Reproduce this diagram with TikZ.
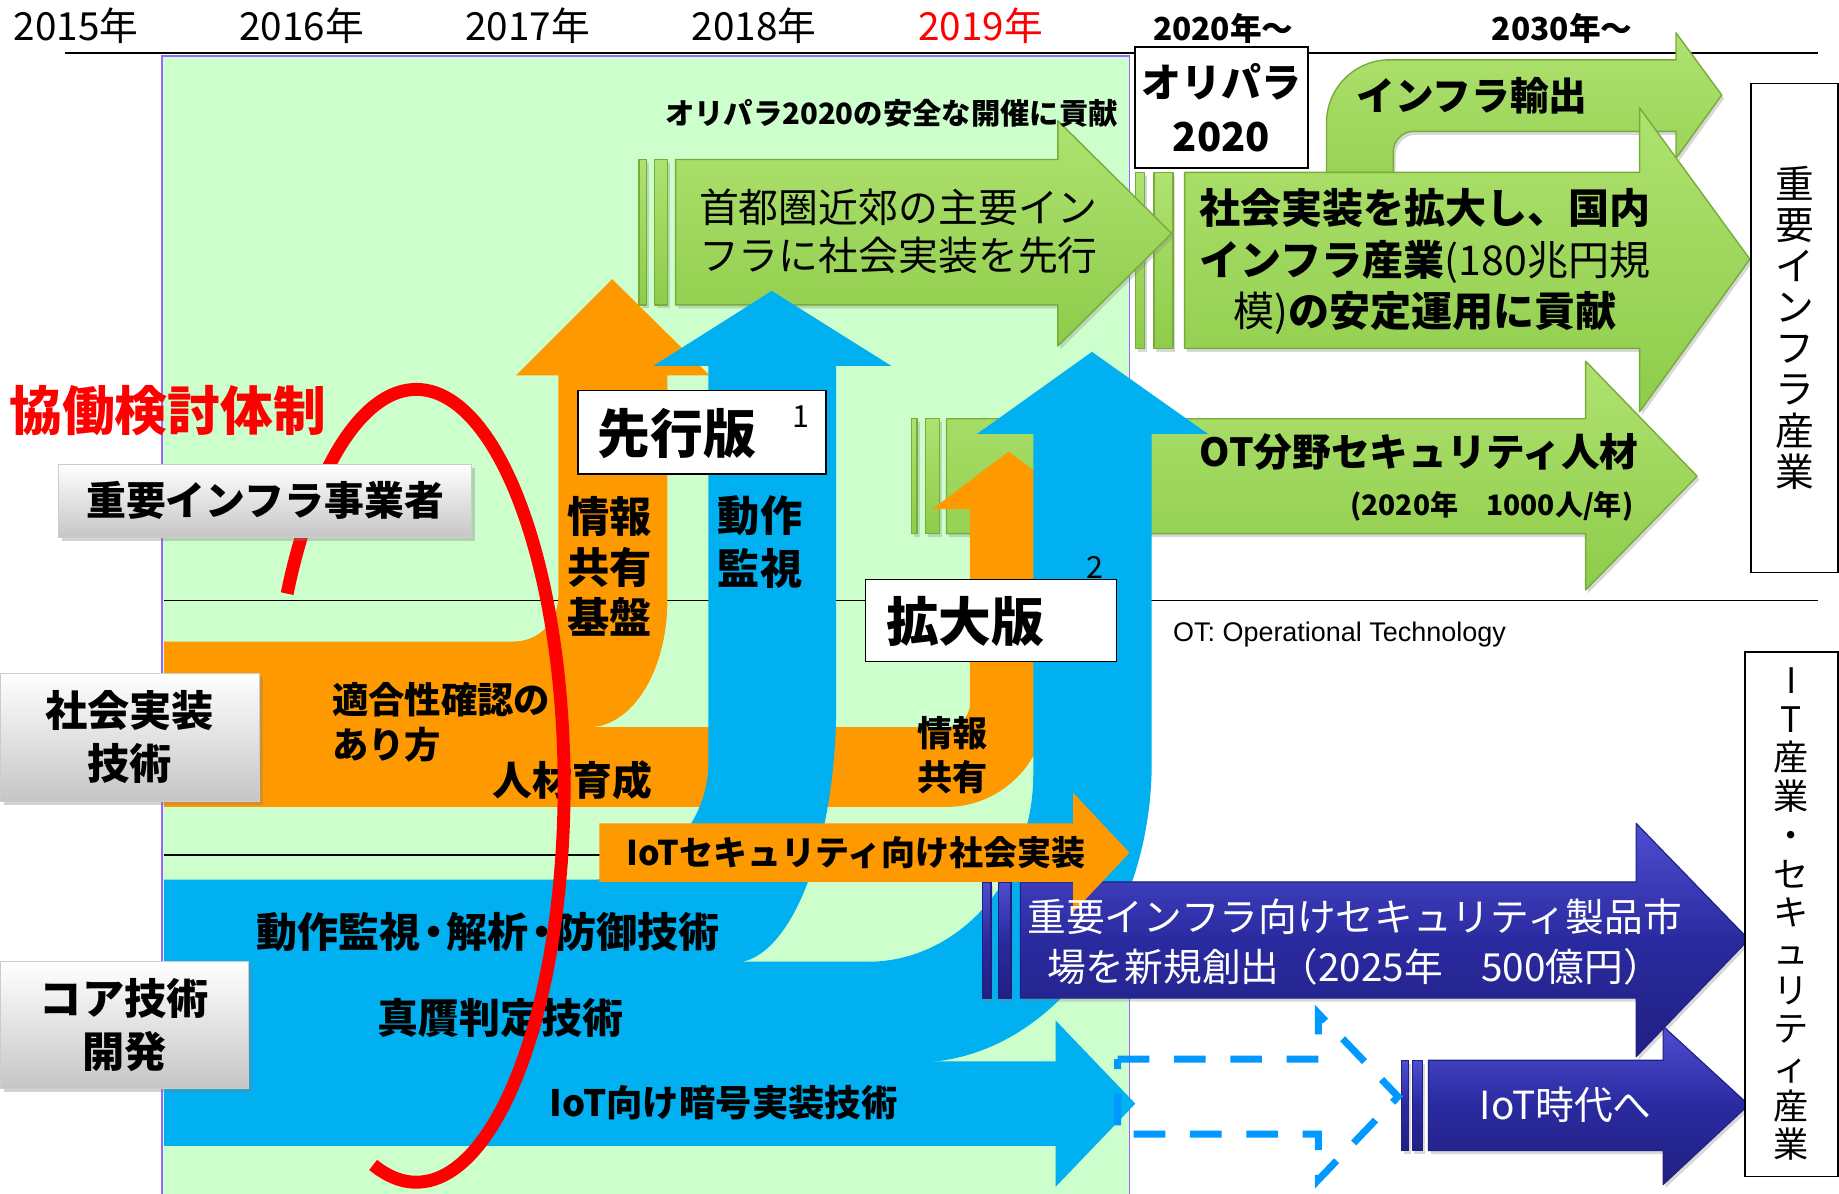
\documentclass[tikz,border=0pt]{standalone}
\usepackage{fontspec}
\setmainfont{Noto Sans CJK JP}
\newfontfamily\libsans{Liberation Sans}
\usetikzlibrary{shadows}
\definecolor{bgG}{RGB}{204,255,204}
\definecolor{bgB}{RGB}{153,102,255}
\definecolor{orng}{RGB}{255,153,0}
\definecolor{sky}{RGB}{0,176,240}
\definecolor{gTop}{RGB}{175,226,112}
\definecolor{gBot}{RGB}{142,204,74}
\definecolor{gEdge}{RGB}{120,172,58}
\definecolor{nTop}{RGB}{78,78,210}
\definecolor{nMid}{RGB}{42,42,160}
\definecolor{nBot}{RGB}{32,32,130}
\definecolor{dashblue}{RGB}{0,153,255}
\newcommand\fsz[2]{\fontsize{#1}{#2}\selectfont}
\newcommand\hdot{\hspace{-0.18em}・\hspace{-0.18em}}
\begin{document}
\begin{tikzpicture}[x=1pt,y=-1pt,
  garrow/.style={top color=gTop, bottom color=gBot, draw=gEdge, line width=1.2pt, line join=round,
    drop shadow={shadow xshift=2pt,shadow yshift=-3pt,opacity=0.3}},
  narrow/.style={top color=nTop, bottom color=nBot, middle color=nMid, draw=nBot, line width=1pt, line join=round,
    drop shadow={shadow xshift=2pt,shadow yshift=-3pt,opacity=0.3}},
  lbox/.style={rectangle, top color=white, bottom color=gray!45, draw=gray!40, line width=0.8pt,
    drop shadow={shadow xshift=3pt,shadow yshift=-3pt,opacity=0.35}, inner sep=0pt, align=center},
  wbox/.style={rectangle, fill=white, draw=black, line width=1.5pt, inner sep=0pt, align=center},
  txt/.style={inner sep=0pt, align=center},
]
\useasboundingbox (0,0) rectangle (1568,1018);
\fill[white] (0,0) rectangle (1568,1018);
% background area
\fill[bgG] (138,48) rectangle (963,1018);
\draw[bgB, line width=1.5pt] (138,1018) -- (138,48) -- (963,48) -- (963,1018);
% axis and separators
\coordinate (axL) at (55,45); \coordinate (axR) at (1550,45);
\draw[line width=1.6pt] (axL) -- (axR);
\coordinate (s1L) at (140,512); \coordinate (s1R) at (1550,512);
\draw[line width=1.2pt] (s1L) -- (s1R);
\coordinate (s2L) at (140,729); \coordinate (s2R) at (520,729);
\draw[line width=1.2pt] (s2L) -- (s2R);

% green arrows
\path[garrow] (1131,200) -- (1131,105) .. controls (1131,75) and (1155,51) .. (1185,51) -- (1429,51) -- (1429,28) -- (1468,81) -- (1429,135) -- (1429,112) -- (1205,112) .. controls (1196,112) and (1188,120) .. (1188,129) -- (1188,200) -- cycle;
\path[garrow] (1010,147) -- (1398,147) -- (1398,92) -- (1492,221) -- (1398,351) -- (1398,297) -- (1010,297) -- cycle;
\path[garrow] (968,147) rectangle (976,297);
\path[garrow] (984,147) rectangle (1000,297);
\path[garrow] (576,136) -- (902,136) -- (902,103) -- (999,199) -- (902,295) -- (902,260) -- (576,260) -- cycle;
\path[garrow] (545,136) rectangle (551,260);
\path[garrow] (558,136) rectangle (569,260);
\path[garrow] (807,357) -- (1352,357) -- (1352,308) -- (1447,406) -- (1352,503) -- (1352,455) -- (807,455) -- cycle;
\path[garrow] (777,357) rectangle (782,455);
\path[garrow] (789,357) rectangle (801,455);

% orange flows
\fill[orng] (140,547) -- (438,547) .. controls (459,547) and (476,530) .. (476,509) -- (476,320) -- (440,320) -- (522,238) -- (605,320) -- (569,320) -- (569,512) .. controls (569,572) and (539,620) .. (502,620) -- (807,620) .. controls (818,620) and (827,611) .. (827,600) -- (827,434) -- (795,434) -- (860,385) -- (925,434) -- (893,434) -- (893,600) .. controls (893,649) and (854,688) .. (807,688) -- (140,688) -- cycle;

% blue flows
\fill[sky] (140,750) -- (504,750) .. controls (559,750) and (604,705) .. (604,650) -- (604,312) -- (557,312) -- (658,248) -- (760,312) -- (713,312) -- (713,600) .. controls (713,721) and (674,821) .. (625,821) -- (140,821) -- cycle;
\fill[sky] (140,820) -- (740,820) .. controls (818,820) and (881,748) .. (881,660) -- (881,370) -- (833,370) -- (931,300) -- (1030,370) -- (982,370) -- (982,650) .. controls (982,791) and (891,906) .. (780,906) -- (140,906) -- cycle;
\fill[sky] (140,905) -- (900,905) -- (900,870) -- (968,941) -- (900,1012) -- (900,977) -- (140,977) -- cycle;

% dark blue arrows
\path[narrow] (870,752) -- (1395,752) -- (1395,702) -- (1491,801) -- (1395,901) -- (1395,851) -- (870,851) -- cycle;
\path[narrow] (838,752) rectangle (845,851);
\path[narrow] (851,752) rectangle (862,851);
\path[narrow] (1218,904) -- (1418,904) -- (1418,875) -- (1491,942) -- (1418,1010) -- (1418,981) -- (1218,981) -- cycle;
\path[narrow] (1195,904) rectangle (1201,981);
\path[narrow] (1204,904) rectangle (1213,981);

% orange IoT arrow
\fill[orng] (511,702) -- (915,702) -- (915,676) -- (963,727) -- (915,778) -- (915,752) -- (511,752) -- cycle;

% dashed arrow
\draw[dashblue, line width=6pt, dash pattern=on 27pt off 21pt] (953,903) -- (1124,903) -- (1124,864) -- (1192,935) -- (1124,1006) -- (1124,967) -- (953,967) -- cycle;

% boxes
\node[wbox, minimum width=147pt, minimum height=103pt, font=\fsz{34}{46}\bfseries] (olibox) at (1041.5,91.5) {オリパラ\\2020};
\node[wbox, minimum width=211pt, minimum height=71pt] (senko) at (598.5,368.5) {};
\node[wbox, minimum width=214pt, minimum height=70pt] (kakudai) at (845,529) {};
\node[wbox, line width=1.2pt, minimum width=74pt, minimum height=417pt, font=\fsz{33}{35}] (infra) at (1530,279.5) {重\\要\\イ\\ン\\フ\\ラ\\産\\業};
\node[wbox, line width=1.2pt, minimum width=79pt, minimum height=447pt, font=\fsz{30}{33}] (itbox) at (1527.5,779.5) {I\\T\\産\\業\\・\\セ\\キ\\ュ\\リ\\テ\\ィ\\産\\業};

% year labels
\node[txt, font=\fsz{33}{36}] (y15) at (65,22) {2015年};
\node[txt, font=\fsz{33}{36}] (y16) at (257,22) {2016年};
\node[txt, font=\fsz{33}{36}] (y17) at (450,22) {2017年};
\node[txt, font=\fsz{33}{36}] (y18) at (643,22) {2018年};
\node[txt, font=\fsz{33}{36}, text=red] (y19) at (836,22) {2019年};
\node[txt, font=\fsz{27}{30}\bfseries] (y20) at (1043,24) {2020年～};
\node[txt, font=\fsz{27}{30}\bfseries] (y30) at (1332,24) {2030年～};

% texts
\node[txt, font=\fsz{25}{28}\bfseries] (olitxt) at (760,97) {オリパラ2020の安全な開催に貢献};
\node[txt, font=\fsz{34}{41}] (shuto) at (766,197) {首都圏近郊の主要イン\\フラに社会実装を先行};
\node[txt, font=\fsz{33}{36}\bfseries] (yushutsu) at (1255,82) {インフラ輸出};
\node[txt, font=\fsz{35}{44}] (kakudaitxt) at (1215,223) {\bfseries 社会実装を拡大し、国内\\\bfseries インフラ産業\mdseries (180兆円規\\模)\bfseries の安定運用に貢献};
\node[txt, font=\fsz{33}{36}\bfseries] (ot1) at (1210,385) {OT分野セキュリティ人材};
\node[txt, font=\fsz{24}{28}\bfseries] (ot2) at (1272,432) {(2020年　1000人/年)};
\node[txt, font=\fsz{45}{50}\bfseries] (senkoT) at (577,370) {先行版};
\node[txt, font=\fsz{26}{28}] (sup1) at (683,355) {1};
\node[txt, font=\fsz{45}{50}\bfseries] (kakudaiT) at (823,530) {拡大版};
\node[txt, font=\fsz{26}{28}] (sup2) at (934,484) {2};
\node[txt, font=\fsz{36}{43}\bfseries] (joho1) at (520,483) {情報\\共有\\基盤};
\node[txt, font=\fsz{36}{45}\bfseries] (dosa) at (648,462) {動作\\監視};
\node[txt, font=\fsz{31}{38}\bfseries, align=left, anchor=west] (tekigo) at (283,616) {適合性確認の\\あり方};
\node[txt, font=\fsz{34}{36}\bfseries] (jinzai) at (488,665) {人材育成};
\node[txt, font=\fsz{30}{37}\bfseries] (joho2) at (812,644) {情報\\共有};
\node[txt, font=\fsz{29}{32}\bfseries] (iotsec) at (730,727) {IoTセキュリティ向け社会実装};
\node[txt, font=\fsz{35}{38}\bfseries] (core1) at (416,795) {動作監視\hdot 解析\hdot 防御技術};
\node[txt, font=\fsz{35}{38}\bfseries] (core2) at (427,868) {真贋判定技術};
\node[txt, font=\fsz{31}{34}\bfseries] (core3) at (617,940) {IoT向け暗号実装技術};
\node[txt, font=\fsz{33}{43}, text=white] (market) at (1155,803) {重要インフラ向けセキュリティ製品市\\場を新規創出（2025年　500億円）};
\node[txt, font=\fsz{33}{36}, text=white] (iotera) at (1335,942) {IoT時代へ};
\node[txt, font=\libsans\fsz{23}{26}, anchor=west] (otnote) at (1000,541) {OT: Operational Technology};
\node[txt, font=\fsz{45}{50}\bfseries, text=red] (kyodo) at (143,350) {協働検討体制};

% red arc
\draw[red, line width=11pt] plot[domain=151:-107, samples=120, smooth] ({355+126*cos(\x)}, {670-338*sin(\x)});

% left labels
\node[lbox, minimum width=352pt, minimum height=62pt, font=\fsz{34}{38}\bfseries] (jigyo) at (226,427) {重要インフラ事業者};
\node[lbox, minimum width=221pt, minimum height=109pt, font=\fsz{36}{45}\bfseries] (shakai) at (110.5,628.5) {社会実装\\技術};
\node[lbox, minimum width=212pt, minimum height=108pt, font=\fsz{36}{45}\bfseries] (core) at (106,874) {コア技術\\開発};
\end{tikzpicture}
\end{document}
